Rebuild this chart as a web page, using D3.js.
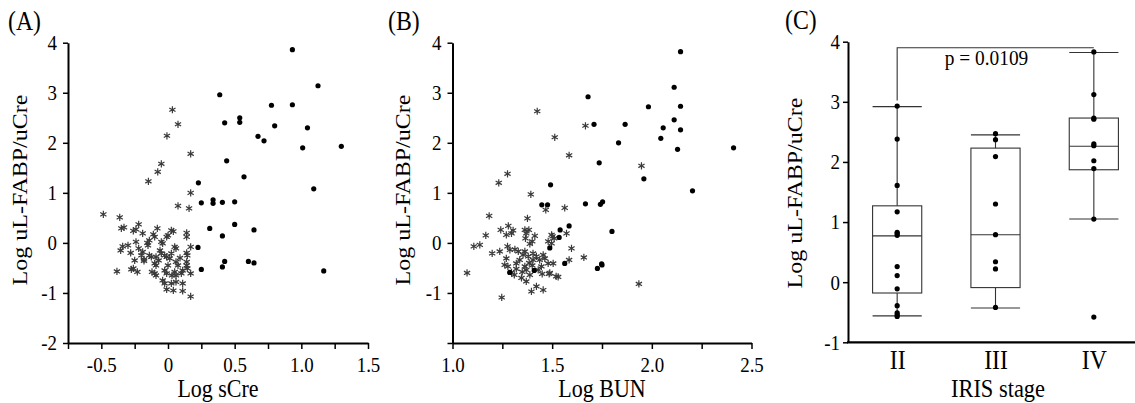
<!DOCTYPE html>
<html>
<head>
<meta charset="utf-8">
<script src="https://cdn.jsdelivr.net/npm/d3@7"></script>
<style>
    body { margin: 0; background: #fff; }
    text { font-family: "Liberation Serif", "Times New Roman", serif; fill: #000; }
</style>
</head>
<body>
<div id="chart"></div>
<script>
// Panel A: log sCre vs log uL-FABP/uCre  [x, y]
const sCreStars = [
    [0.033,2.66],[0.075,2.37],[-0.008,2.14],[0.17,1.78],[-0.05,1.58],[-0.077,1.42],[-0.147,1.23],
    [0.17,1.00],[0.075,0.74],[0.158,0.69],[-0.485,0.57],[-0.362,0.51],[0.17,-0.08],[-0.383,-0.57],
    [0.17,-1.07],[-0.35,0.29],[-0.33,0.31],[-0.22,0.37],[-0.24,0.27],[-0.08,0.29],[0.04,0.23],
    [0.025,0.25],[0.14,0.20],[0.14,0.12],[-0.19,0.19],[-0.11,0.17],[-0.10,0.12],[-0.14,0.05],
    [-0.24,0.02],[-0.34,-0.07],[-0.30,-0.05],[-0.355,-0.15],[-0.28,-0.20],[-0.22,-0.11],[-0.15,-0.05],
    [-0.155,0],[-0.05,0.02],[-0.04,-0.01],[-0.01,0.12],[0,0.15],[0.05,-0.08],[0.06,-0.11],[0.14,-0.2],
    [0.145,-0.25],[-0.2,-0.25],[-0.14,-0.25],[-0.125,-0.28],[-0.09,-0.28],[-0.05,-0.21],[-0.025,-0.25],
    [-0.01,-0.28],[0.013,-0.31],[0.025,-0.21],[-0.25,-0.35],[-0.18,-0.36],[-0.1,-0.41],[-0.09,-0.45],
    [0.06,-0.38],[0.075,-0.45],[0.14,-0.38],[0.14,-0.45],[0.145,-0.51],[-0.275,-0.53],[-0.23,-0.58],
    [-0.1,-0.61],[-0.09,-0.65],[-0.025,-0.55],[-0.01,-0.61],[0.05,-0.58],[0.06,-0.65],[0.1,-0.61],
    [0.11,-0.55],[0.17,-0.61],[-0.04,-0.75],[-0.025,-0.81],[0.025,-0.81],[0.06,-0.78],[0.11,-0.81],
    [-0.01,-0.93],[0.04,-0.95],[0.11,-0.96],[-0.26,0.24],[-0.19,-0.18],[-0.18,-0.33],[-0.26,-0.51],
    [-0.12,-0.58],[-0.07,-0.35],[0.0,-0.45],[0.03,-0.65],[-0.06,-0.15],[0.09,-0.3]
];
const sCreDots = [
    [0.933,3.86],[1.125,3.14],[0.388,2.96],[0.776,2.75],[0.933,2.76],[0.538,2.50],[0.538,2.41],
    [0.425,2.40],[0.80,2.34],[1.046,2.30],[0.675,2.13],[0.72,2.04],[1.01,1.90],[1.30,1.93],
    [0.44,1.64],[0.57,1.32],[1.093,1.08],[0.228,1.20],[0.25,0.80],[0.338,0.86],[0.338,0.79],
    [0.408,0.81],[0.5,0.82],[0.313,0.29],[0.5,0.37],[0.408,0.14],[0.645,0.26],[0.225,-0.09],
    [0.25,-0.53],[0.408,-0.48],[0.425,-0.37],[0.603,-0.37],[0.645,-0.40],[1.168,-0.56]
];

// Panel B: log BUN vs log uL-FABP/uCre
const bunStars = [
    [1.425,2.63],[1.667,2.34],[1.513,2.11],[1.585,1.75],[1.276,1.38],[1.232,1.20],[1.393,0.97],
    [1.468,0.66],[1.563,0.70],[1.948,1.54],[1.935,-0.82],[1.184,0.54],[1.073,-0.60],[1.247,-1.09],
    [1.167,0.15],[1.107,-0.07],[1.137,-0.04],[1.199,-0.21],[1.659,-0.29],[1.585,-0.34],[1.572,0.19],
    [1.597,-0.11],[1.53,-0.68],[1.485,-0.62],[1.376,0.49],[1.242,0.26],[1.28,0.34],[1.27,0.16],
    [1.296,0.19],[1.304,0.25],[1.363,0.26],[1.37,0.19],[1.383,0.26],[1.366,0.09],[1.40,0.03],
    [1.388,-0.02],[1.413,0.14],[1.497,0.16],[1.51,0.09],[1.48,0.03],[1.497,-0.01],[1.237,-0.17],
    [1.276,-0.07],[1.288,-0.14],[1.313,-0.13],[1.27,-0.31],[1.262,-0.44],[1.278,-0.47],[1.296,-0.59],
    [1.31,-0.64],[1.32,-0.41],[1.337,-0.34],[1.354,-0.24],[1.363,-0.17],[1.38,-0.27],[1.404,-0.21],
    [1.421,-0.27],[1.437,-0.34],[1.455,-0.24],[1.463,-0.31],[1.48,-0.41],[1.505,-0.41],[1.363,-0.47],
    [1.37,-0.54],[1.388,-0.64],[1.346,-0.70],[1.37,-0.77],[1.43,-0.54],[1.446,-0.47],[1.488,-0.60],
    [1.52,-0.67],[1.396,-0.97],[1.421,-0.87],[1.455,-0.94],[1.404,-0.34],[1.33,-0.17],[1.502,0.13],
    [1.35,-0.58],[1.40,-0.45],[1.32,-0.52],[1.45,-0.62],[1.385,-0.40]
];
const bunDots = [
    [2.144,3.82],[2.112,3.11],[1.68,2.92],[1.983,2.72],[2.144,2.73],[2.112,2.46],[1.71,2.37],
    [1.866,2.37],[2.057,2.30],[2.144,2.26],[2.045,2.09],[1.833,2.00],[2.129,1.87],[2.41,1.90],
    [1.736,1.60],[1.96,1.28],[2.204,1.04],[1.667,0.78],[1.742,0.77],[1.753,0.82],[1.80,0.23],
    [1.585,0.34],[1.492,1.16],[1.448,0.76],[1.477,0.76],[1.54,0.26],[1.535,0.11],[1.488,-0.1],
    [1.563,-0.41],[1.727,-0.51],[1.748,-0.42],[1.75,-0.44],[1.41,-0.55],[1.287,-0.59]
];

// Panel C: IRIS stage box plot
const stages = ["II", "III", "IV"];
const whiskerLow = [-0.56, -0.43, 1.05];
const boxQ1 = [-0.18, -0.09, 1.87];
const boxMedian = [0.77, 0.79, 2.26];
const boxQ3 = [1.27, 2.23, 2.73];
const whiskerHigh = [2.92, 2.45, 3.82];
const stagePoints = [
    [2.93,2.38,1.61,1.17,0.83,0.81,0.78,0.26,0.11,-0.11,-0.39,-0.51,-0.54,-0.57],
    [2.47,2.37,2.09,1.30,0.79,0.34,0.22,-0.42],
    [3.83,3.12,2.73,2.71,2.30,2.27,2.02,1.89,1.05,-0.58]
];
const pLabel = "p = 0.0109";

// ticks
const sCreTicks = [-0.75,-0.5,-0.25,0,0.25,0.5,0.75,1,1.25,1.5];
const sCreTickLabels = ["","-0.5","","0","","0.5","","1.0","","1.5"];
const bunTicks = [1,1.25,1.5,1.75,2,2.25,2.5];
const bunTickLabels = ["1.0","","1.5","","2.0","","2.5"];
const fabpTicks = [-2,-1,0,1,2,3,4];
const fabpTickLabelsA = ["-2","-1","0","1","2","3","4"];
const fabpTickLabelsB = ["","-1","0","1","2","3","4"];
const fabpTicksC = [-1,0,1,2,3,4];

const squash = "scale(0.88,1)";

let svg = d3.select("#chart").append("svg")
    .attr("width", 1135)
    .attr("height", 403);

let yAB = d3.scaleLinear().domain([-2, 4]).range([343, 42.7]);
let xA = d3.scaleLinear().domain([-0.75, 1.5]).range([68, 368]);
let xB = d3.scaleLinear().domain([1.0, 2.5]).range([452.5, 751.5]);
let yC = d3.scaleLinear().domain([-1, 4]).range([342.3, 41.7]);
let xC = d3.scalePoint().domain(stages).range([848, 1143]).padding(0.5);

function styleAxis(g) {
    g.select(".domain").attr("stroke", "#000").attr("stroke-width", 2);
    g.selectAll(".tick line").attr("stroke", "#000").attr("stroke-width", 1.5);
    g.selectAll("text").attr("transform", squash).style("font-size", "21.5px");
}

function labelText(x, y, txt, size, rotate) {
    let t = svg.append("text")
        .style("font-size", size + "px")
        .text(txt);
    if (rotate) {
        t.attr("text-anchor", "middle")
            .attr("transform", "translate(" + x + "," + y + ") " + squash + " rotate(-90)");
    } else {
        t.attr("transform", "translate(" + x + "," + y + ") " + squash);
    }
    return t;
}

// scatter panel
function drawScatter(x, y, stars, dots, xTicks, xLabels, yLabels) {
    svg.append("g")
        .attr("transform", "translate(0," + y.range()[0] + ")")
        .call(d3.axisBottom(x).tickValues(xTicks).tickSize(6).tickPadding(8).tickSizeOuter(0)
            .tickFormat(function(d, i) { return xLabels[i]; }))
        .call(styleAxis);

    svg.append("g")
        .attr("transform", "translate(" + x.range()[0] + ",0)")
        .call(d3.axisLeft(y).tickValues(fabpTicks).tickSize(5).tickPadding(7.5).tickSizeOuter(0)
            .tickFormat(function(d, i) { return yLabels[i]; }))
        .call(styleAxis);

    let star = d3.symbol().type(d3.symbolAsterisk).size(36);
    svg.append("g").selectAll("path")
        .data(stars)
        .enter().append("path")
        .attr("d", star)
        .attr("transform", function(d) { return "translate(" + x(d[0]) + "," + y(d[1]) + ")"; })
        .attr("fill", "none")
        .attr("stroke", "#3a3a3a")
        .attr("stroke-width", 1.2);

    svg.append("g").selectAll("circle")
        .data(dots)
        .enter().append("circle")
        .attr("cx", function(d) { return x(d[0]); })
        .attr("cy", function(d) { return y(d[1]); })
        .attr("r", 2.6)
        .attr("fill", "#000");
}

drawScatter(xA, yAB, sCreStars, sCreDots, sCreTicks, sCreTickLabels, fabpTickLabelsA);
drawScatter(xB, yAB, bunStars, bunDots, bunTicks, bunTickLabels, fabpTickLabelsB);

// box plot panel
svg.append("g")
    .attr("transform", "translate(848,0)")
    .call(d3.axisLeft(yC).tickValues(fabpTicksC).tickSize(5).tickPadding(4.2).tickSizeOuter(0)
        .tickFormat(function(d) { return String(d); }))
    .call(styleAxis);

svg.append("line")
    .attr("x1", 847).attr("x2", 1135)
    .attr("y1", yC(-1)).attr("y2", yC(-1))
    .attr("stroke", "#000").attr("stroke-width", 2.2);

svg.append("g")
    .attr("transform", "translate(0," + yC(-1) + ")")
    .call(d3.axisBottom(xC).tickSize(0).tickPadding(8))
    .call(function(g) {
        g.select(".domain").remove();
        g.selectAll("text").attr("transform", squash).style("font-size", "27px");
    });

let boxW = xC.step() * 0.5;
let boxes = svg.append("g").attr("stroke", "#333").attr("stroke-width", 1.1).attr("fill", "none");

stages.forEach(function(s, i) {
    let cx = xC(s);
    boxes.append("line").attr("x1", cx).attr("x2", cx)
        .attr("y1", yC(whiskerLow[i])).attr("y2", yC(boxQ1[i]));
    boxes.append("line").attr("x1", cx).attr("x2", cx)
        .attr("y1", yC(boxQ3[i])).attr("y2", yC(whiskerHigh[i]));
    [whiskerLow[i], whiskerHigh[i], boxMedian[i]].forEach(function(v) {
        boxes.append("line")
            .attr("x1", cx - boxW / 2).attr("x2", cx + boxW / 2)
            .attr("y1", yC(v)).attr("y2", yC(v));
    });
    boxes.append("rect")
        .attr("x", cx - boxW / 2)
        .attr("y", yC(boxQ3[i]))
        .attr("width", boxW)
        .attr("height", yC(boxQ1[i]) - yC(boxQ3[i]));

    svg.append("g").selectAll("circle")
        .data(stagePoints[i])
        .enter().append("circle")
        .attr("cx", cx)
        .attr("cy", function(d) { return yC(d); })
        .attr("r", 2.6)
        .attr("fill", "#000");
});

// significance bracket II vs IV
let bx1 = xC("II"), bx2 = xC("IV");
svg.append("path")
    .attr("d", "M" + bx1 + "," + yC(3.02) + "V" + yC(3.9) + "H" + bx2)
    .attr("fill", "none")
    .attr("stroke", "#333")
    .attr("stroke-width", 1.1);
labelText((bx1 + bx2) / 2 - 9, 65, pLabel, 22).attr("text-anchor", "middle");

// titles
labelText(8, 30, "(A)", 27);
labelText(388, 30, "(B)", 27);
labelText(785, 29, "(C)", 27);

labelText(27, 190, "Log uL-FABP/uCre", 24, true);
labelText(410, 190, "Log uL-FABP/uCre", 24, true);
labelText(802, 193, "Log uL-FABP/uCre", 24, true);

labelText(218, 396.5, "Log sCre", 25).attr("text-anchor", "middle");
labelText(602, 396.5, "Log BUN", 25).attr("text-anchor", "middle");
labelText(998, 397, "IRIS stage", 25.5).attr("text-anchor", "middle");
</script>
</body>
</html>
